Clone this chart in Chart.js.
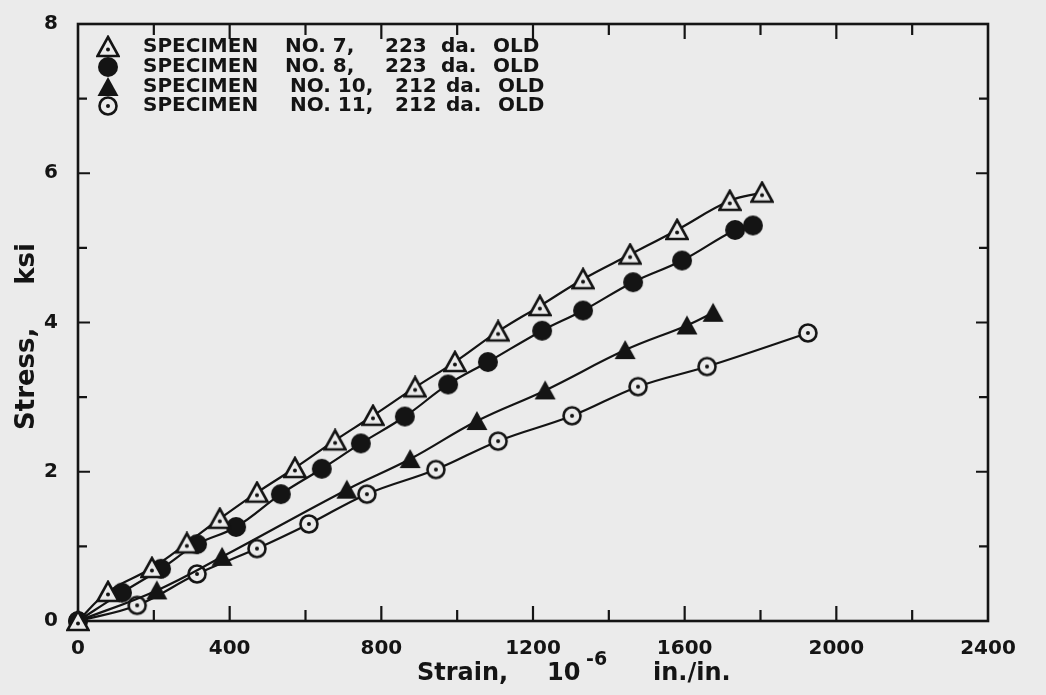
<!DOCTYPE html>
<html>
<head>
<meta charset="utf-8">
<script src="https://cdn.jsdelivr.net/npm/chart.js@4.4.0/dist/chart.umd.min.js"></script>
<style>
  html, body { margin: 0; padding: 0; background: #ebebeb; }
  #wrap { width: 1046px; height: 695px; position: relative; }
</style>
</head>
<body>
<div id="wrap"><canvas id="stressChart"></canvas></div>
<script>
// strain in 10^-6 in./in., stress in ksi
const spec7Strain = [0, 79, 195, 287, 374, 472, 572, 678, 778, 889, 994, 1108, 1218, 1332, 1456, 1580, 1719, 1804];
const spec7Stress = [0, 0.39, 0.71, 1.04, 1.37, 1.72, 2.05, 2.42, 2.75, 3.13, 3.47, 3.88, 4.22, 4.58, 4.91, 5.24, 5.63, 5.74];

const spec8Strain = [0, 116, 219, 314, 417, 535, 643, 746, 862, 976, 1081, 1224, 1332, 1464, 1593, 1733, 1780];
const spec8Stress = [0, 0.38, 0.70, 1.03, 1.26, 1.70, 2.04, 2.38, 2.74, 3.17, 3.47, 3.89, 4.16, 4.54, 4.83, 5.24, 5.30];

const spec10Strain = [0, 208, 380, 709, 876, 1052, 1232, 1443, 1606, 1675];
const spec10Stress = [0, 0.41, 0.86, 1.76, 2.17, 2.68, 3.09, 3.63, 3.96, 4.13];

const spec11Strain = [0, 156, 314, 472, 609, 762, 944, 1108, 1303, 1477, 1659, 1925];
const spec11Stress = [0, 0.21, 0.63, 0.97, 1.30, 1.70, 2.03, 2.41, 2.75, 3.14, 3.41, 3.86];

const specimenNos = ["7", "8", "10", "11"];
const specimenAges = ["223", "223", "212", "212"];

const xTickValues = [0, 400, 800, 1200, 1600, 2000, 2400];
const xTickLabels = ["0", "400", "800", "1200", "1600", "2000", "2400"];
const yTickValues = [0, 2, 4, 6, 8];
const yTickLabels = ["0", "2", "4", "6", "8"];

const INK = "#141414";
const PAPER = "#ebebeb";
const FONT = "'DejaVu Sans', sans-serif";

// Build marker images for the four specimen symbols
function makeMarker(kind) {
  const c = document.createElement("canvas");
  c.width = 24;
  c.height = 24;
  const g = c.getContext("2d");
  g.lineWidth = 2.6;
  g.strokeStyle = INK;
  g.fillStyle = INK;
  if (kind === "openTri" || kind === "fillTri") {
    g.beginPath();
    g.moveTo(12, 2);
    g.lineTo(22.5, 21);
    g.lineTo(1.5, 21);
    g.closePath();
    if (kind === "fillTri") {
      g.fill();
    } else {
      g.fillStyle = PAPER;
      g.fill();
      g.stroke();
      g.fillStyle = INK;
      g.beginPath();
      g.arc(12, 14.5, 2, 0, Math.PI * 2);
      g.fill();
    }
  } else if (kind === "fillCircle") {
    g.beginPath();
    g.arc(12, 12, 10, 0, Math.PI * 2);
    g.fill();
  } else {
    g.beginPath();
    g.arc(12, 12, 8.5, 0, Math.PI * 2);
    g.fillStyle = PAPER;
    g.fill();
    g.stroke();
    g.fillStyle = INK;
    g.beginPath();
    g.arc(12, 12, 2, 0, Math.PI * 2);
    g.fill();
  }
  return c;
}

const markers = [makeMarker("openTri"), makeMarker("fillCircle"), makeMarker("fillTri"), makeMarker("openCircle")];

function toPoints(xs, ys) {
  return xs.map((x, i) => ({ x: x, y: ys[i] }));
}

const seriesData = [
  toPoints(spec7Strain, spec7Stress),
  toPoints(spec8Strain, spec8Stress),
  toPoints(spec10Strain, spec10Stress),
  toPoints(spec11Strain, spec11Stress),
];

// Frame with inward ticks on all four sides, axis titles and legend
const framePlugin = {
  id: "frame",
  beforeDatasetsDraw(chart) {
    const ctx = chart.ctx;
    const a = chart.chartArea;
    const xs = chart.scales.x;
    const ys = chart.scales.y;
    ctx.save();
    ctx.strokeStyle = INK;
    ctx.lineWidth = 2.6;
    ctx.strokeRect(a.left, a.top, a.right - a.left, a.bottom - a.top);
    ctx.lineWidth = 2.2;
    ctx.beginPath();
    for (let v = 200; v < 2400; v += 200) {
      const px = xs.getPixelForValue(v);
      const len = v % 400 === 0 ? 15 : 11;
      ctx.moveTo(px, a.bottom);
      ctx.lineTo(px, a.bottom - len);
      ctx.moveTo(px, a.top);
      ctx.lineTo(px, a.top + len);
    }
    for (let v = 1; v < 8; v += 1) {
      const py = ys.getPixelForValue(v);
      const len = v % 2 === 0 ? 12 : 9;
      ctx.moveTo(a.left, py);
      ctx.lineTo(a.left + len, py);
      ctx.moveTo(a.right, py);
      ctx.lineTo(a.right - len, py);
    }
    ctx.stroke();

    // axis titles
    ctx.fillStyle = INK;
    ctx.font = "bold 24px " + FONT;
    ctx.textBaseline = "middle";
    ctx.textAlign = "left";
    ctx.fillText("Strain,", 417, 674);
    ctx.fillText("10", 547, 674);
    ctx.font = "bold 19px " + FONT;
    ctx.fillText("-6", 586, 660);
    ctx.font = "bold 24px " + FONT;
    ctx.fillText("in./in.", 653, 674);

    ctx.translate(27, 0);
    ctx.rotate(-Math.PI / 2);
    ctx.font = "bold 26px " + FONT;
    ctx.textAlign = "left";
    ctx.fillText("Stress,", -430, 0);
    ctx.textAlign = "right";
    ctx.fillText("ksi", -243, 0);
    ctx.restore();

    // legend
    ctx.save();
    ctx.fillStyle = INK;
    ctx.font = "bold 20px " + FONT;
    ctx.textBaseline = "middle";
    ctx.textAlign = "left";
    const rowY = [47, 67, 87, 106];
    specimenNos.forEach((no, i) => {
      const y = rowY[i];
      const shift = i < 2 ? 0 : 5;
      ctx.drawImage(markers[i], 108 - 12, y - 12);
      ctx.fillText("SPECIMEN", 143, y);
      ctx.fillText("NO. " + no + ",", 285 + shift, y);
      ctx.fillText(specimenAges[i], 385 + shift * 2, y);
      ctx.fillText("da.", 441 + shift, y);
      ctx.fillText("OLD", 493 + shift, y);
    });
    ctx.restore();
  },
};

document.addEventListener("DOMContentLoaded", () => {
  const canvas = document.getElementById("stressChart");

  const datasets = seriesData.map((pts, i) => ({
    label: "SPECIMEN NO. " + specimenNos[i] + ", " + specimenAges[i] + " da. OLD",
    data: pts,
    borderColor: INK,
    borderWidth: 2.2,
    backgroundColor: INK,
    pointStyle: markers[i],
    pointRadius: 10,
    tension: 0.4,
    clip: false,
  }));

  new Chart(canvas, {
    type: "line",
    data: { datasets: datasets },
    options: {
      responsive: true,
      maintainAspectRatio: false,
      animation: false,
      layout: { padding: { top: 12, right: 58, left: 0, bottom: 0 } },
      plugins: {
        legend: { display: false },
        tooltip: { enabled: false },
      },
      scales: {
        x: {
          type: "linear",
          min: 0,
          max: 2400,
          grid: { display: false },
          border: { display: false },
          afterBuildTicks(scale) {
            scale.ticks = xTickValues.map((v) => ({ value: v }));
          },
          afterFit(scale) {
            scale.height = 74;
          },
          ticks: {
            autoSkip: false,
            maxRotation: 0,
            padding: 8,
            color: INK,
            font: { family: FONT, size: 20, weight: "bold" },
            callback: (v) => xTickLabels[xTickValues.indexOf(v)],
          },
        },
        y: {
          type: "linear",
          min: 0,
          max: 8,
          grid: { display: false },
          border: { display: false },
          afterBuildTicks(scale) {
            scale.ticks = yTickValues.map((v) => ({ value: v }));
          },
          afterFit(scale) {
            scale.width = 78;
          },
          ticks: {
            padding: 12,
            color: INK,
            font: { family: FONT, size: 20, weight: "bold" },
            callback: (v) => yTickLabels[yTickValues.indexOf(v)],
          },
        },
      },
    },
    plugins: [
      {
        id: "paper",
        beforeDraw(chart) {
          const ctx = chart.ctx;
          ctx.save();
          ctx.fillStyle = PAPER;
          ctx.fillRect(0, 0, chart.width, chart.height);
          ctx.restore();
        },
      },
      framePlugin,
    ],
  });
});
</script>
</body>
</html>
